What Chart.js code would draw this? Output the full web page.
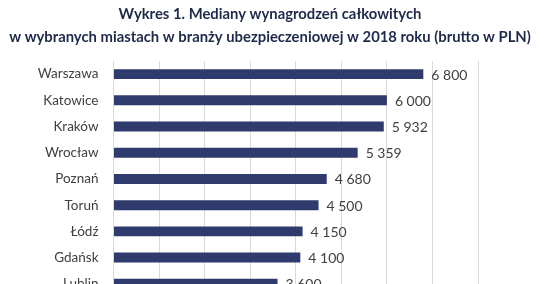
<!DOCTYPE html>
<html>
<head>
<meta charset="utf-8">
<script src="https://cdn.jsdelivr.net/npm/chart.js@4"></script>
<style>
  html, body { margin: 0; padding: 0; background: #fff; height: 284px; overflow: hidden; }
</style>
</head>
<body>
<canvas id="chart" width="539" height="312"></canvas>
<script>
var cities = ['Warszawa', 'Katowice', 'Kraków', 'Wrocław', 'Poznań', 'Toruń', 'Łódź', 'Gdańsk', 'Lublin'];
var medians = [6800, 6000, 5932, 5359, 4680, 4500, 4150, 4100, 3600];
var titleLines = [
    'Wykres 1. Mediany wynagrodzeń całkowitych',
    'w wybranych miastach w branży ubezpieczeniowej w 2018 roku (brutto w PLN)'
];

function fmt(v) {
    return v.toString().replace(/\B(?=(\d{3})+(?!\d))/g, ' ');
}

// title centred on the whole canvas, not the plot
var pageTitle = {
    id: 'pageTitle',
    afterDraw: function (chart) {
        var ctx = chart.ctx;
        ctx.save();
        ctx.font = 'bold 16px Lato, sans-serif';
        // size the long line to span ~522px like the original
        var size = 16 * 522 / ctx.measureText(titleLines[1]).width;
        ctx.font = 'bold ' + size.toFixed(2) + 'px Lato, sans-serif';
        ctx.fillStyle = '#1F2A4A';
        ctx.textAlign = 'center';
        ctx.textBaseline = 'middle';
        ctx.fillText(titleLines[0], 270, 14);
        ctx.fillText(titleLines[1], 270, 37);
        ctx.restore();
    }
};

// value labels next to the bars
var valueLabels = {
    id: 'valueLabels',
    afterDatasetsDraw: function (chart) {
        var ctx = chart.ctx;
        var meta = chart.getDatasetMeta(0);
        ctx.save();
        ctx.font = '14px Lato, sans-serif';
        ctx.fillStyle = '#404040';
        ctx.textBaseline = 'middle';
        ctx.textAlign = 'left';
        meta.data.forEach(function (bar, i) {
            ctx.fillText(fmt(medians[i]), bar.x + 8, bar.y + 1);
        });
        ctx.restore();
    }
};

var ctx = document.getElementById('chart');
var chart = new Chart(ctx, {
    type: 'bar',
    data: {
        labels: cities,
        datasets: [{
            data: medians,
            backgroundColor: '#2F3A6D',
            borderWidth: 0,
            barPercentage: 0.76,
            categoryPercentage: 0.5
        }]
    },
    options: {
        indexAxis: 'y',
        responsive: false,
        animation: false,
        layout: { padding: { left: 0, right: 61, top: 61, bottom: 2 } },
        plugins: {
            legend: { display: false },
            tooltip: { enabled: false },
            title: { display: false }
        },
        scales: {
            x: {
                min: 0,
                max: 8000,
                ticks: { display: false, stepSize: 1000 },
                grid: { color: '#D9D9D9', drawTicks: false },
                border: { display: false }
            },
            y: {
                grid: { display: false },
                border: { display: false },
                ticks: { color: '#404040', font: { family: 'Lato, sans-serif', size: 13.5 }, padding: 7 },
                afterFit: function (scale) { scale.width = 113.5; }
            }
        }
    },
    plugins: [valueLabels, pageTitle]
});
</script>
</body>
</html>
